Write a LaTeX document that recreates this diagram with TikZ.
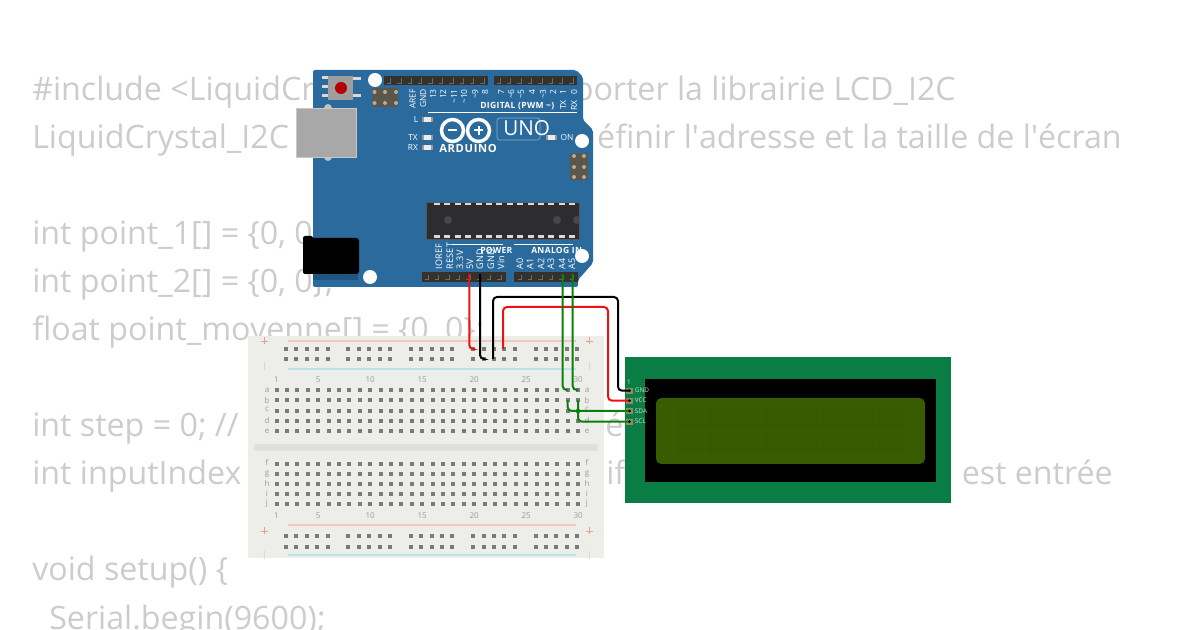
\documentclass[tikz,border=0pt]{standalone}
\usepackage{fontspec}
\setmainfont{Open Sans}
\usepackage{xcolor}
\definecolor{codegray}{HTML}{CCCCCC}
\definecolor{unoblue}{HTML}{2A6A9C}
\definecolor{unodark}{HTML}{1F5580}
\definecolor{headgray}{HTML}{35322E}
\definecolor{pinmark}{HTML}{6E6A60}
\definecolor{icspgray}{HTML}{5C574C}
\definecolor{icspdot}{HTML}{B5AD98}
\definecolor{chipgray}{HTML}{2D2C30}
\definecolor{chipdot}{HTML}{47474A}
\definecolor{bbbody}{HTML}{EDEDEA}
\definecolor{bbgroove}{HTML}{DFDFDC}
\definecolor{bbhole}{HTML}{7A7A7A}
\definecolor{bbtxt}{HTML}{9A9A9A}
\definecolor{railpink}{HTML}{F0C8C0}
\definecolor{plusred}{HTML}{F09C8C}
\definecolor{railblue}{HTML}{BCE2EE}
\definecolor{lcdgreen}{HTML}{0A7D45}
\definecolor{lcdscreen}{HTML}{3A5C00}
\definecolor{lcdchar}{HTML}{385900}
\definecolor{lcdpad}{HTML}{8E8E66}
\definecolor{wirered}{HTML}{EE1111}
\definecolor{wiregreen}{HTML}{0A800A}
\tikzset{
	codetxt/.style={text=codegray,inner sep=0pt,font=\fontsize{24.15}{24}\selectfont},
	unotxt/.style={text=white,inner sep=0pt,font=\fontsize{6.3}{6}\selectfont},
	unolow/.style={text=white,inner sep=0pt,font=\fontsize{6.8}{6}\selectfont\addfontfeature{LetterSpace=4}},
	unobold/.style={text=white,inner sep=0pt,font=\fontsize{6.4}{6}\selectfont\bfseries\addfontfeature{LetterSpace=4}},
	bbnum/.style={text=bbtxt,inner sep=0pt,font=\fontsize{6}{6}\selectfont},
	lcdtxt/.style={text=white!85!black,inner sep=0pt,anchor=west,font=\fontsize{4.8}{5}\selectfont},
	wire/.style={line width=1.5pt,rounded corners=3pt}
}
\begin{document}
\begin{tikzpicture}[x=0.75pt,y=-0.75pt]
	\useasboundingbox (0,0) rectangle (1200,630);
	\clip (0,0) rectangle (1200,630);
	
	% code in the background
	\foreach \i/\y/\t in {1/101/{\#include <LiquidCr},2/149/{LiquidCrystal\_I2C},3/245/{int point\_1[] = \{0, 0},4/293/{int point\_2[] = \{0, 0\};},5/341/{float point\_moyenne[] = \{0, 0\};},6/437/{int step = 0; //},7/485/{int inputIndex},8/581/{void setup() \{}}
	\node[codetxt,anchor=base west] (codel\i) at (32,\y) {\t};
	\node[codetxt,anchor=base west] (codel9) at (49,629) {Serial.begin(9600);};
	\node[codetxt,anchor=base east] (coder1) at (956,101) {porter la librairie LCD\_I2C};
	\node[codetxt,anchor=base east] (coder2) at (1122,149) {éfinir l\textquotesingle adresse et la taille de l\textquotesingle écran};
	\node[codetxt,anchor=base west] (coder3) at (605,437) {é};
	\node[codetxt,anchor=base west] (coder4) at (606,485) {if};
	\node[codetxt,anchor=base east] (coder5) at (1113,485) {est entrée};
	
	% breadboard
	\fill[bbbody] (248,336) rectangle (604,558);
	\fill[bbgroove,rounded corners=1pt] (254,444) rectangle (598,451);
	\foreach \y in {341,525} \draw[railpink,line width=0.8pt] (288,\y) -- (576,\y);
	\foreach \y in {369,555} \draw[railblue,line width=0.8pt] (288,\y) -- (576,\y);
	\foreach \x in {264,589}
	{
		\foreach \y in {341,531}
		{
			\draw[plusred,line width=0.6pt] (\x-3.5,\y) -- (\x+3.5,\y);
			\draw[plusred,line width=0.6pt] (\x,\y-3.5) -- (\x,\y+3.5);
		}
		\foreach \y in {366,555}
		\draw[railblue,line width=0.7pt] (\x,\y-4) -- (\x,\y+4);
	}
	\foreach \y in {349,359,536,547}
	\foreach \g in {0,6,12,18,24}
	\foreach \k in {0,...,4}
	\fill[bbhole] ({286+10.4*(\g+\k)-2},\y-2) rectangle ++(4,4);
	\foreach \y in {390,400.5,411,421,431,464,474,484,494,504}
	\foreach \k in {0,...,29}
	\fill[bbhole] ({276.5+10.4*\k-2},\y-2) rectangle ++(4,4);
	\foreach \n in {1,5,10,15,20,25,30}
	{
		\node[bbnum] (numt\n) at ({276.5+10.4*(\n-1)},379.5) {\n};
		\node[bbnum] (numb\n) at ({276.5+10.4*(\n-1)},516) {\n};
	}
	\foreach \l/\y in {a/390,b/400.5,c/409,d/421,e/431,f/462,g/474,h/483,i/494,j/504}
	{
		\node[bbnum] (letl\l) at (267,\y) {\l};
		\node[bbnum] (letr\l) at (587,\y) {\l};
	}
	
	% uno board
	\fill[unoblue,rounded corners=1.5pt] (313,70) -- (576,70) -- (583,77) -- (583,120) -- (593,130) -- (593,263) -- (578,280) -- (578,287) -- (313,287) -- cycle;
	\fill[unodark] (313,273) rectangle (358,280);
	% reset button
	\foreach \y in {78,87,96} \fill[white!85!black] (322,\y-1.5) rectangle (329,\y+1.5);
	\foreach \y in {79,96} \fill[white!85!black] (353,\y-1.5) rectangle (361,\y+1.5);
	\fill[white!62!black] (328,76) rectangle (353,100);
	\fill[red!70!black] (341,88) circle (6);
	% usb
	\fill[white!75!black] (328,108) circle (4);
	\fill[white!75!black] (328,157) circle (4);
	\fill[white!66!black,draw=white!78!black,line width=0.5pt] (296,108) rectangle (356,157);
	% jack
	\fill[black,rounded corners=2pt] (310,238) rectangle (359,274);
	\fill[black,rounded corners=1.5pt] (303,236) rectangle (313,274);
	% holes
	\foreach \x/\y in {375/80,582/141,370/277} \fill[white] (\x,\y) circle (7);
	% headers
	\foreach \xa/\xb in {384/488,494/577} \fill[headgray] (\xa,76) rectangle (\xb,85);
	\foreach \xa/\xb in {422/506,514/578} \fill[headgray] (\xa,272) rectangle (\xb,282);
	\foreach \x/\n/\y in {389.2/9/80.5,499/7/80.5,427/7/277,520/5/277}
	\foreach \k in {0,...,\n}
	\draw[pinmark,line width=0.7pt] ({\x+10.4*\k-2.5},\y+2.5) -- ({\x+10.4*\k+1.5},\y+2.5) -- ({\x+10.4*\k+1.5},\y-2);
	% icsp
	\fill[icspgray] (372,88) rectangle (398,107);
	\fill[icspgray] (570,153) rectangle (588,180);
	\foreach \x in {374.5,385,396}
	\foreach \y in {92,103}
	\fill[icspdot] (\x,\y) circle (2);
	\foreach \x in {574,584}
	\foreach \y in {156,167,177}
	\fill[icspdot] (\x,\y) circle (2);
	% chip
	\fill[chipgray,draw=chipgray!80!white,line width=0.4pt] (426,202) rectangle (579,239);
	\begin{scope}
		\clip (426,202) rectangle (579,239);
		\foreach \x in {448,557,577} \fill[chipdot] (\x,220) circle (4);
	\end{scope}
	\foreach \k in {0,...,13}
	{
		\fill[white!85!black] ({434+10.4*\k},203) rectangle ++(6,2.5);
		\fill[white!85!black] ({434+10.4*\k},235.5) rectangle ++(6,2.5);
	}
	% top labels
	\foreach \t/\x [count=\i] in {AREF/412.7,GND/423,13/433,12/443,\textasciitilde11/454,\textasciitilde10/464,\textasciitilde9/475,8/485,7/501,\textasciitilde6/511,\textasciitilde5/521,4/532,\textasciitilde3/543,2/553,1/563,0/574}
	\node[unotxt,rotate=90,anchor=east] (toplab\i) at (\x,89) {\t};
	\node[unotxt,rotate=90,anchor=east] (toptx) at (563,100) {TX};
	\node[unotxt,rotate=90,anchor=east] (toprx) at (574,100) {RX};
	\node[unobold,anchor=west] (digital) at (480,106) {DIGITAL (PWM \textasciitilde)};
	\draw[white,line width=0.5pt] (428,112) -- (577,112);
	% leds
	\foreach \n/\t/\lx/\y in {l/L/416/120,tx/TX/413/138,rx/RX/413/148}
	{
		\node[unotxt] (led\n) at (\lx,\y) {\t};
		\fill[white!60!black] (422,\y-2.5) rectangle (433,\y+2.5);
		\fill[white!92!black] (424,\y-2.5) rectangle (431,\y+2.5);
	}
	\fill[white!60!black] (546,135.5) rectangle (557,140.5);
	\fill[white!92!black] (548,135.5) rectangle (555,140.5);
	\node[unotxt] (ledon) at (567,138) {ON};
	% logo
	\draw[white,line width=2.6pt] (452.5,130.5) circle (11);
	\draw[white,line width=2.6pt] (478.5,130.5) circle (11);
	\draw[white,line width=1.5pt] (448,130.5) -- (457,130.5);
	\draw[white,line width=1.5pt] (474,130.5) -- (483,130.5);
	\draw[white,line width=1.5pt] (478.5,126) -- (478.5,135);
	\node[text=white,inner sep=0pt,anchor=west,font=\fontsize{8.4}{8}\selectfont\bfseries\addfontfeature{LetterSpace=6}] (ardlogo) at (439,148.5) {ARDUINO};
	\draw[white!45!unoblue,line width=0.5pt,rounded corners=2pt] (497,118) rectangle (540,140);
	\node[text=white,inner sep=0pt,anchor=west,font=\fontsize{15.5}{15}\selectfont] (unologo) at (503,128) {UNO};
	% bottom labels
	\foreach \t/\x [count=\i] in {IOREF/439,RESET/450,3.3V/460,5V/470,GND/480,GND/491,Vin/501,A0/520,A1/530,A2/541,A3/551,A4/562,A5/572}
	\node[unolow,rotate=90,anchor=west] (botlab\i) at (\x,270) {\t};
	\draw[white,line width=0.5pt] (452,244) -- (503,244);
	\draw[white,line width=0.5pt] (514,244) -- (573,244);
	\node[unobold,anchor=west] (power) at (480,250) {POWER};
	\node[unobold,anchor=west] (analog) at (531,250) {ANALOG IN};
	\fill[white] (582,256) circle (7);
	
	% lcd
	\fill[lcdgreen] (625,357) rectangle (951,503);
	\fill[black] (645,379) rectangle (936,482);
	\fill[lcdscreen,rounded corners=4pt] (656,398) rectangle (925,464);
	\foreach \k in {0,...,15}
	\foreach \y in {408,433}
	\fill[lcdchar] ({677+14.25*\k},\y) rectangle ++(13,20);
	\foreach \n/\t/\y in {gnd/GND/390.7,vcc/VCC/400.7,sda/SDA/411,scl/SCL/421.7}
	{
		\fill[lcdpad] (625.5,\y-3) rectangle (632.5,\y+3);
		\coordinate (lcd\n) at (629.5,\y);
		\node[lcdtxt] (lab\n) at (634.7,\y) {\t};
	}
	\node[lcdtxt,anchor=center] (lcdone) at (629,382) {1};
	
	% pins for the wires
	\coordinate (uno5v) at (469.3,274);
	\coordinate (unognd) at (480,274);
	\coordinate (unoa4) at (562.7,274);
	\coordinate (unoa5) at (572.7,274);
	\coordinate (railfive) at (473,349);
	\coordinate (railgnd) at (483,359);
	\coordinate (railgndb) at (493,359);
	\coordinate (railvcc) at (503,349);
	\coordinate (hola) at (567.7,390);
	\coordinate (holb) at (578,390);
	\coordinate (holc) at (567.7,400.5);
	\coordinate (hold) at (578,400.5);
	
	\draw[wire,wirered] (uno5v) |- (railfive);
	\draw[wire,black] (unognd) |- (railgnd);
	\draw[wire,black] (railgndb) -- (493,297) -- (618,297) |- (lcdgnd);
	\draw[wire,wirered] (railvcc) -- (503,307) -- (608,307) |- (lcdvcc);
	\draw[wire,wiregreen] (unoa4) |- (hola);
	\draw[wire,wiregreen] (unoa5) |- (holb);
	\draw[wire,wiregreen] (holc) |- (lcdsda);
	\draw[wire,wiregreen] (hold) |- (lcdscl);
	\foreach \n in {gnd,vcc,sda,scl} \fill[black] (lcd\n) circle (1.5);
\end{tikzpicture}
\end{document}
